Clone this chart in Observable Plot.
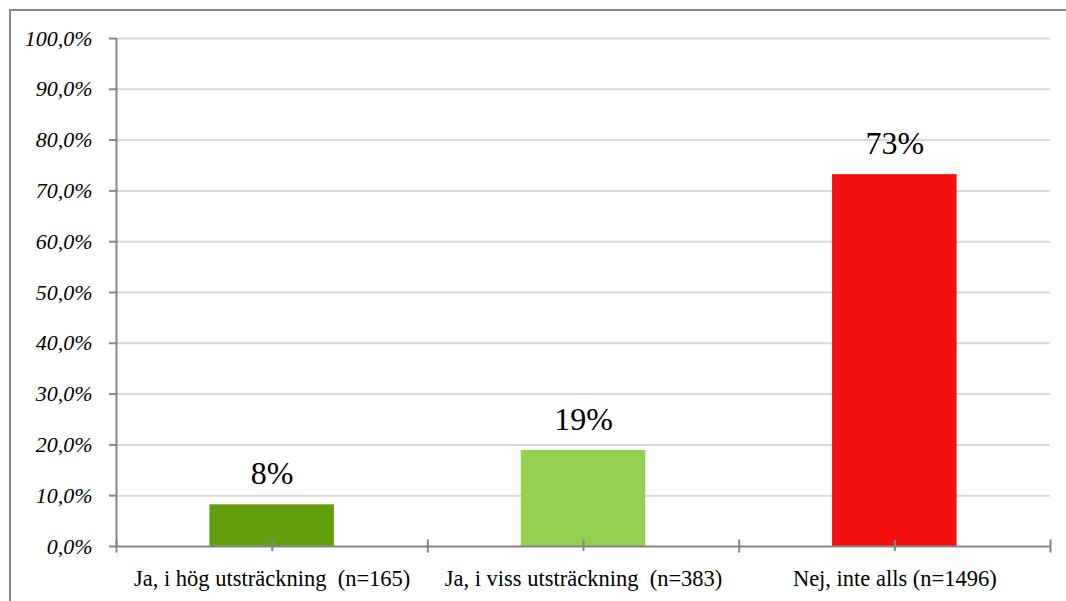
<!DOCTYPE html>
<html>
<head>
<meta charset="utf-8">
<script src="https://cdn.jsdelivr.net/npm/d3@7"></script>
<script src="https://cdn.jsdelivr.net/npm/@observablehq/plot@0.6"></script>
<style>
  html, body { margin: 0; padding: 0; background: #fff; }
  #wrap { position: relative; width: 1066px; height: 601px; overflow: hidden; }
  #frame { position: absolute; left: 9px; top: 9px; width: 1100px; height: 700px; border: 2px solid #868686; box-sizing: border-box; }
  #chart { position: absolute; left: 0; top: 0; }
</style>
</head>
<body>
<div id="wrap"><div id="frame"></div><div id="chart"></div></div>
<script>
const categories = ["Ja, i hög utsträckning  (n=165)", "Ja, i viss utsträckning  (n=383)", "Nej, inte alls (n=1496)"];
const values = [0.082, 0.189, 0.732];
const colors = ["#639e0d", "#92d050", "#f51010"];
const yTicks = [0, 0.1, 0.2, 0.3, 0.4, 0.5, 0.6, 0.7, 0.8, 0.9, 1.0];

const data = categories.map((c, i) => ({cat: c, i, v: values[i], color: colors[i], center: i + 0.5}));
const boundaries = d3.range(categories.length + 1);
const fmt = d => (d * 100).toFixed(1).replace(".", ",") + "%";
const axisGray = "#868686";

const chart = Plot.plot({
  width: 1066,
  height: 601,
  marginLeft: 116,
  marginRight: 16,
  marginTop: 38,
  marginBottom: 55,
  style: {fontFamily: "'Liberation Serif', serif", background: "transparent", color: "black"},
  x: {type: "linear", domain: [0, categories.length], axis: null},
  y: {domain: [0, 1], axis: null},
  marks: [
    Plot.ruleY(yTicks.filter(d => d > 0), {x1: 0, x2: categories.length, stroke: "#d9d9d9", strokeWidth: 2}),
    Plot.rectY(data, {x1: d => d.i + 0.3, x2: d => d.i + 0.7, y1: 0, y2: "v", fill: "color"}),
    Plot.ruleY([0], {x1: 0, x2: categories.length, stroke: axisGray, strokeWidth: 2}),
    Plot.ruleX([0], {y1: 0, y2: 1, stroke: axisGray, strokeWidth: 2}),
    Plot.ruleX(boundaries, {x: d => d, y1: -0.013, y2: 0.013, stroke: axisGray, strokeWidth: 2}),
    Plot.ruleX(data, {x: "center", y1: -0.01, y2: 0.012, stroke: axisGray, strokeWidth: 2}),
    Plot.axisY({ticks: yTicks, tickFormat: fmt, tickSize: 7, tickPadding: 17, stroke: axisGray, fill: "black", strokeWidth: 2, fontSize: 22, fontStyle: "italic", label: null}),
    Plot.text(data, {x: "center", y: "v", text: d => Math.round(d.v * 100) + "%", dy: -31, fontSize: 32, fill: "black"}),
    Plot.text(data, {x: "center", y: 0, text: "cat", dy: 32, fontSize: 22.5, fill: "black"})
  ]
});
document.getElementById("chart").appendChild(chart);
</script>
</body>
</html>
